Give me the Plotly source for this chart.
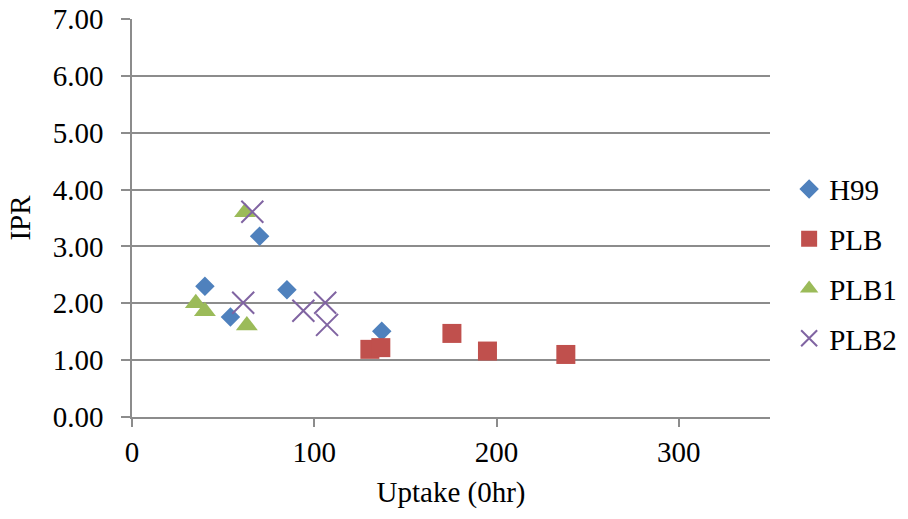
import plotly.graph_objects as go

h99_x = [40, 70, 85, 54, 137]
h99_y = [2.30, 3.18, 2.24, 1.76, 1.51]
plb_x = [130.5, 136.5, 175.5, 195, 238]
plb_y = [1.19, 1.22, 1.47, 1.16, 1.10]
plb1_x = [62, 35, 40, 63]
plb1_y = [3.60, 2.00, 1.86, 1.61]
plb2_x = [66, 61, 94, 106, 107]
plb2_y = [3.61, 2.01, 1.87, 2.01, 1.62]

FONT = "Liberation Serif"
GRID = "#8c8c8c"
FS = 29

fig = go.Figure()
fig.add_trace(go.Scatter(x=h99_x, y=h99_y, mode="markers", name="H99", legendgroup="a",
                         marker=dict(symbol="diamond", size=15, color="#4F81BD")))
fig.add_trace(go.Scatter(x=plb_x, y=plb_y, mode="markers", name="PLB", legendgroup="b",
                         marker=dict(symbol="square", size=19, color="#C0504D")))
fig.add_trace(go.Scatter(x=plb1_x, y=plb1_y, mode="markers", name="PLB1", legendgroup="c",
                         marker=dict(symbol="triangle-up", size=19, color="#9BBB59")))
fig.add_trace(go.Scatter(x=plb2_x, y=plb2_y, mode="markers", name="PLB2", legendgroup="d",
                         marker=dict(symbol="x-thin-open", size=22, color="#8064A2",
                                     line=dict(width=2, color="#8064A2"))))

fig.update_layout(
    width=908, height=519,
    margin=dict(l=132, r=138, t=19, b=102, autoexpand=False),
    paper_bgcolor="white", plot_bgcolor="white",
    font=dict(family=FONT, size=FS, color="black"),
    showlegend=True,
    legend=dict(x=1.03, y=0.385, xanchor="left", yanchor="middle",
                font=dict(family=FONT, size=FS), tracegroupgap=9,
                itemwidth=30, bgcolor="rgba(0,0,0,0)"),
    xaxis=dict(range=[0, 350], dtick=100, tick0=0, showgrid=False, zeroline=False,
               showline=True, linecolor=GRID, linewidth=1.5, automargin=False,
               ticks="outside", ticklen=8, tickcolor=GRID, tickwidth=1.5,
               title=dict(text="Uptake (0hr)", standoff=15, font=dict(family=FONT, size=FS)),
               tickfont=dict(family=FONT, size=FS)),
    yaxis=dict(range=[0, 7], dtick=1, tick0=0, tickformat=".2f", showgrid=True,
               gridcolor=GRID, gridwidth=1.5, zeroline=False, automargin=False,
               showline=True, linecolor=GRID, linewidth=1.5,
               ticks="outside", ticklen=9, tickcolor=GRID, tickwidth=1.5,
               ticklabelstandoff=12,
               title=dict(text="IPR", standoff=14, font=dict(family=FONT, size=FS)),
               tickfont=dict(family=FONT, size=FS)),
)

fig.write_html("out.html")
